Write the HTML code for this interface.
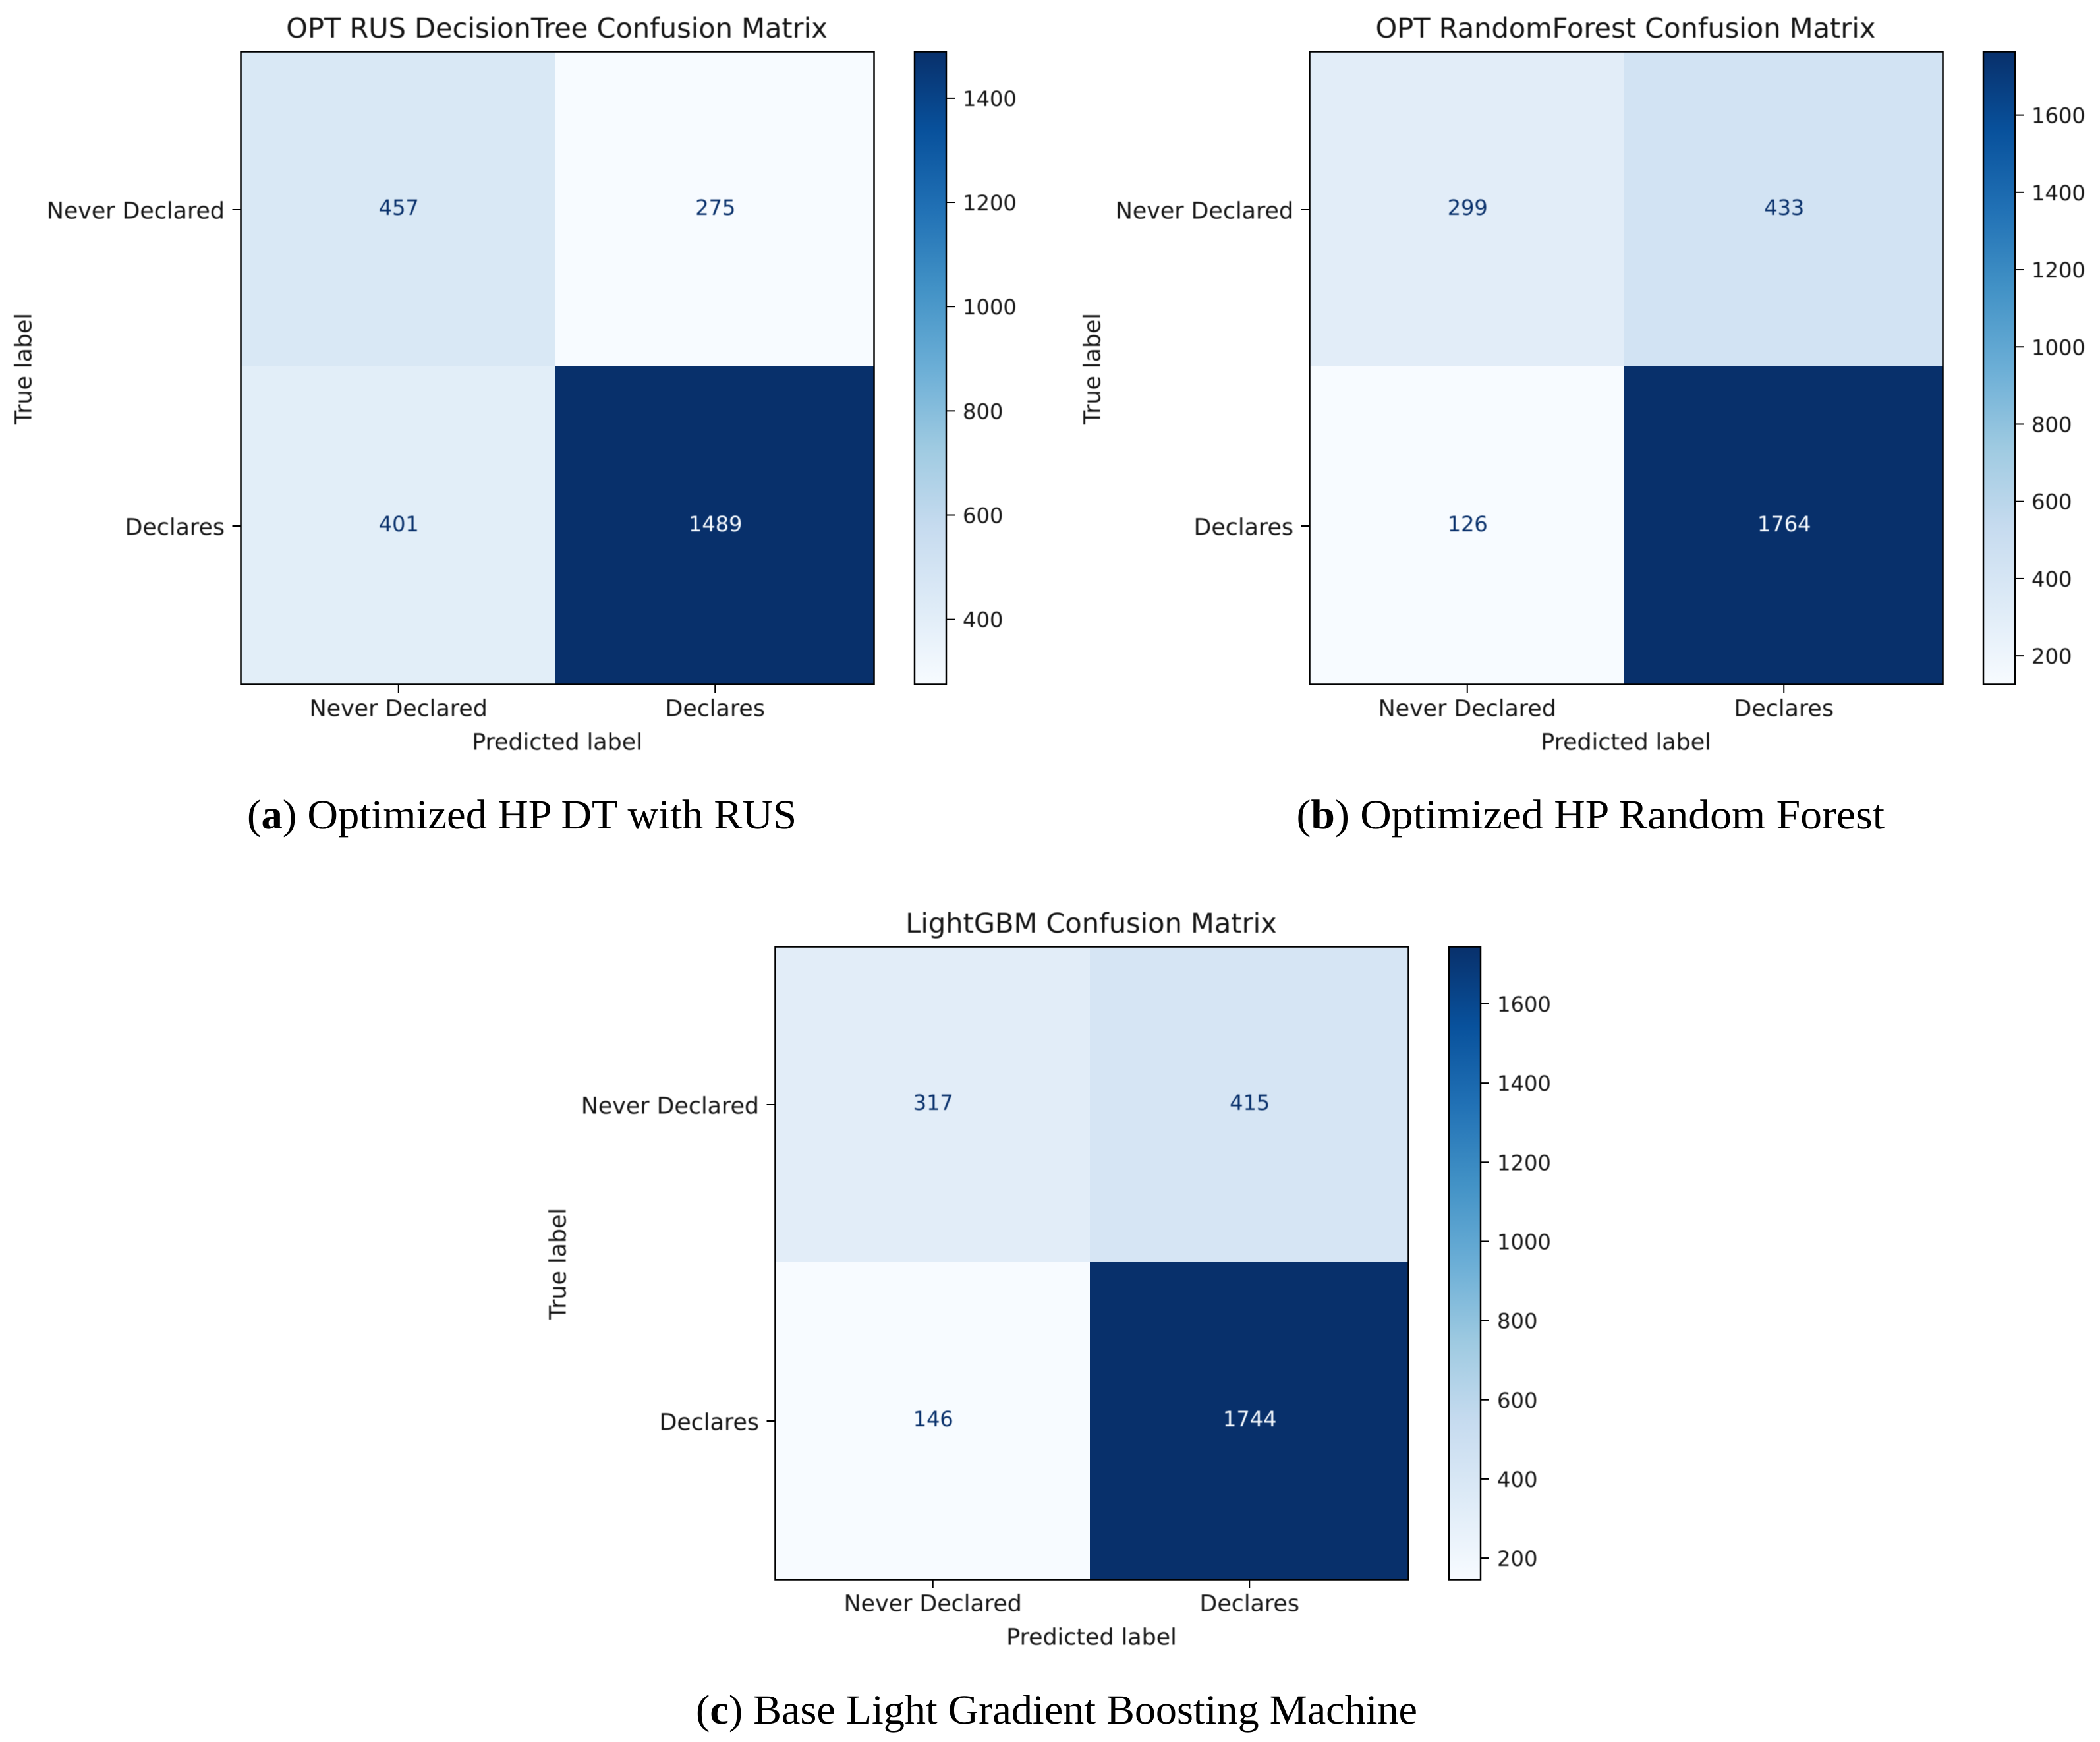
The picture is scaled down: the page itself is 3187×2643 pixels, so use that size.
<!DOCTYPE html>
<html lang="en">
<head>
<meta charset="utf-8">
<title>Confusion Matrices</title>
<style>
html,body{margin:0;padding:0;background:#fff;width:3187px;height:2643px;overflow:hidden}
svg{display:block}
.mp{font-family:"DejaVu Sans","Liberation Sans",sans-serif;fill:#151515;text-rendering:geometricPrecision;filter:blur(.6px)}
.cap{font-family:"Liberation Serif",serif;font-size:63px;fill:#000;text-rendering:geometricPrecision}
</style>
</head>
<body>
<svg id="figure" xmlns="http://www.w3.org/2000/svg" width="3187" height="2643" viewBox="0 0 3187 2643">
  <defs id="defs"></defs>
  <rect x="0" y="0" width="3187" height="2643" fill="#ffffff"/>
  <g id="panels"></g>
  <text class="cap" x="375" y="1257" textLength="834" lengthAdjust="spacingAndGlyphs">(<tspan font-weight="bold">a</tspan>) Optimized HP DT with RUS</text>
  <text class="cap" x="1967.5" y="1257" textLength="892.5" lengthAdjust="spacingAndGlyphs">(<tspan font-weight="bold">b</tspan>) Optimized HP Random Forest</text>
  <text class="cap" x="1056" y="2615" textLength="1095" lengthAdjust="spacingAndGlyphs">(<tspan font-weight="bold">c</tspan>) Base Light Gradient Boosting Machine</text>
</svg>
<script>
// ---- chart data ----
const categories = ['Never Declared', 'Declares'];
const titleA = 'OPT RUS DecisionTree Confusion Matrix';
const titleB = 'OPT RandomForest Confusion Matrix';
const titleC = 'LightGBM Confusion Matrix';
const matrixA = [[457, 275], [401, 1489]];
const matrixB = [[299, 433], [126, 1764]];
const matrixC = [[317, 415], [146, 1744]];
const colorbarTicksA = [400, 600, 800, 1000, 1200, 1400];
const colorbarTicksB = [200, 400, 600, 800, 1000, 1200, 1400, 1600];
const colorbarTicksC = [200, 400, 600, 800, 1000, 1200, 1400, 1600];
const xAxisTitle = 'Predicted label';
const yAxisTitle = 'True label';

// ---- Blues colormap anchors ----
const blues = ['#f7fbff', '#deebf7', '#c6dbef', '#9ecae1', '#6baed6', '#4292c6', '#2171b5', '#08519c', '#08306b'];

// ---- layout (axes frames) ----
const AXES_W = 961, AXES_H = 960;
const CBAR_GAP = 61.5, CBAR_W = 48;
const SPINE = 2.5, TICK_LEN = 13;
const SPLIT_DX = -3, SPLIT_DY = -2.5;
const VALUE_FONT = 32, LABEL_FONT = 34.8, CBAR_FONT = 32.2, TITLE_FONT = 41.5;
const panelA = {key: 'a', x: 365.5, y: 78.5, title: titleA, matrix: matrixA, ticks: colorbarTicksA};
const panelB = {key: 'b', x: 1987.5, y: 78.5, title: titleB, matrix: matrixB, ticks: colorbarTicksB};
const panelC = {key: 'c', x: 1176.5, y: 1436.5, title: titleC, matrix: matrixC, ticks: colorbarTicksC};

const NS = 'http://www.w3.org/2000/svg';
function make(tag, attrs, parent) {
  const el = document.createElementNS(NS, tag);
  for (const k in attrs) el.setAttribute(k, attrs[k]);
  parent.appendChild(el);
  return el;
}
function hexRgb(h) {
  return [parseInt(h.slice(1, 3), 16), parseInt(h.slice(3, 5), 16), parseInt(h.slice(5, 7), 16)];
}
function bluesColor(t) {
  const c = Math.max(0, Math.min(1, t)) * (blues.length - 1);
  const i = Math.min(Math.floor(c), blues.length - 2);
  const f = c - i;
  const p = hexRgb(blues[i]), q = hexRgb(blues[i + 1]);
  return 'rgb(' + p.map((v, n) => Math.round(v + (q[n] - v) * f)).join(',') + ')';
}

const defs = document.getElementById('defs');
const root = document.getElementById('panels');

function drawPanel(p) {
  const flat = p.matrix[0].concat(p.matrix[1]);
  const vmin = Math.min.apply(null, flat), vmax = Math.max.apply(null, flat);
  const norm = v => (v - vmin) / (vmax - vmin);
  const n = categories.length;
  const xScale = i => p.x + (i + 0.5) * AXES_W / n;
  const yScale = i => p.y + (i + 0.5) * AXES_H / n;
  const xEdge = i => p.x + i * AXES_W / n + (i > 0 && i < n ? SPLIT_DX : 0);
  const yEdge = i => p.y + i * AXES_H / n + (i > 0 && i < n ? SPLIT_DY : 0);
  const cbarX = p.x + AXES_W + CBAR_GAP;
  const cbarY = v => p.y + AXES_H * (1 - norm(v));
  const bottom = p.y + AXES_H;

  const g = make('g', {}, root);
  
  

  // heatmap cells
  p.matrix.forEach((row, r) => row.forEach((val, c) => {
    const cell = make('rect', {
      x: xEdge(c), y: yEdge(r),
      width: xEdge(c + 1) - xEdge(c), height: yEdge(r + 1) - yEdge(r), fill: bluesColor(norm(val))
    }, g);
    
    
  }));
  // cell values
  p.matrix.forEach((row, r) => row.forEach((val, c) => {
    const t = make('text', {
      x: xScale(c) - 0.5, y: yScale(r) + 7.5, 'text-anchor': 'middle', 'class': 'mp', 'font-size': VALUE_FONT,
      style: 'fill:' + (norm(val) < 0.5 ? '#08306b' : '#f7fbff')
    }, g);
    t.textContent = String(val);
    
    
  }));
  // spine
  const frame = make('rect', {x: p.x, y: p.y, width: AXES_W, height: AXES_H, fill: 'none', stroke: '#000', 'stroke-width': SPINE}, g);
  
  

  // title
  const title = make('text', {x: p.x + AXES_W / 2 - 1, y: p.y - 21.5, 'text-anchor': 'middle', 'class': 'mp', 'font-size': TITLE_FONT}, g);
  title.textContent = p.title;
  
  

  // category ticks
  categories.forEach((cat, i) => {
    const xt = make('line', {x1: xScale(i) - 1, x2: xScale(i) - 1, y1: bottom, y2: bottom + TICK_LEN, stroke: '#000', 'stroke-width': 2}, g);
    
    
    const xl = make('text', {x: xScale(i) - 1, y: bottom + 48, 'text-anchor': 'middle', 'class': 'mp', 'font-size': LABEL_FONT}, g);
    xl.textContent = cat;
    
    
    const yt = make('line', {x1: p.x - TICK_LEN, x2: p.x, y1: yScale(i) - 0.5, y2: yScale(i) - 0.5, stroke: '#000', 'stroke-width': 2}, g);
    
    
    const yl = make('text', {x: p.x - 24.5, y: yScale(i) + 13, 'text-anchor': 'end', 'class': 'mp', 'font-size': LABEL_FONT}, g);
    yl.textContent = cat;
    
    
  });

  // axis titles
  const xTitle = make('text', {x: p.x + AXES_W / 2 - 0.5, y: bottom + 99, 'text-anchor': 'middle', 'class': 'mp', 'font-size': LABEL_FONT}, g);
  xTitle.textContent = xAxisTitle;
  
  
  const yx = p.x - 318, yy = p.y + AXES_H / 2 + 1;
  const yTitle = make('text', {x: yx, y: yy, 'text-anchor': 'middle', 'class': 'mp', 'font-size': LABEL_FONT, transform: 'rotate(-90 ' + yx + ' ' + yy + ')'}, g);
  yTitle.textContent = yAxisTitle;
  
  

  // colorbar gradient
  const grad = make('linearGradient', {id: 'cbar-grad-' + p.key, x1: 0, y1: 1, x2: 0, y2: 0}, defs);
  blues.forEach((col, i) => make('stop', {offset: i / (blues.length - 1), 'stop-color': col}, grad));
  const bar = make('rect', {x: cbarX, y: p.y, width: CBAR_W, height: AXES_H, fill: 'url(#cbar-grad-' + p.key + ')', stroke: '#000', 'stroke-width': SPINE}, g);
  
  

  // colorbar ticks
  p.ticks.forEach(v => {
    const ty = cbarY(v);
    const tk = make('line', {x1: cbarX + CBAR_W, x2: cbarX + CBAR_W + TICK_LEN, y1: ty, y2: ty, stroke: '#000', 'stroke-width': 2}, g);
    
    
    const tl = make('text', {x: cbarX + CBAR_W + 25, y: ty + 12, 'class': 'mp', 'font-size': CBAR_FONT}, g);
    tl.textContent = String(v);
    
    
  });
}

drawPanel(panelA);
drawPanel(panelB);
drawPanel(panelC);
</script>
</body>
</html>
